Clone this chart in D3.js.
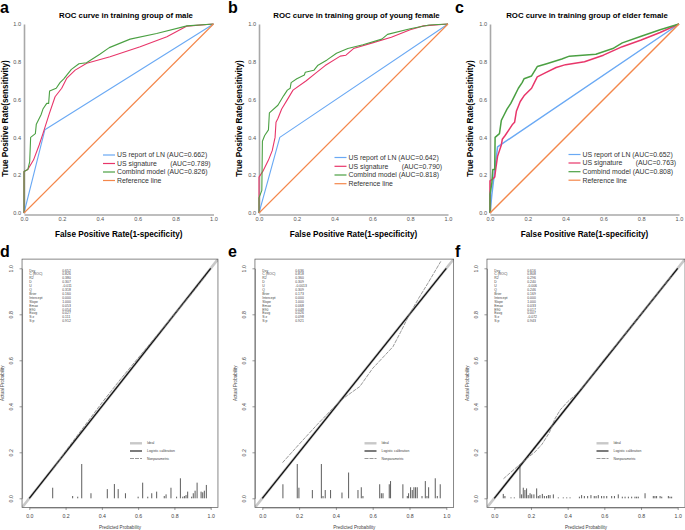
<!DOCTYPE html>
<html><head><meta charset="utf-8">
<script src="https://cdn.jsdelivr.net/npm/d3@7"></script>
<style>body{margin:0;background:#fff} text{font-family:"Liberation Sans",Arial,sans-serif}</style>
</head><body><svg id="c" width="685" height="530"></svg>
<script>
// ---------- DATA ----------
const rocTicks = [0, 0.2, 0.4, 0.6, 0.8, 1.0];
const rocNames = ["US report of LN (AUC=", "US signature       (AUC=", "Combind model (AUC=", "Reference line"];
const rocColors = ["#6aa9f4", "#e8366a", "#4ba043", "#f4874b"];
const rocTitles = ["ROC curve in training group of male", "ROC curve in training group of young female", "ROC curve in training group of elder female"];
const aucA = ["0.662", "0.789", "0.826"];
const aucB = ["0.642", "0.790", "0.818"];
const aucC = ["0.652", "0.763", "0.808"];
const refLine = [[0, 0], [1, 1]];

const aBlue = [[0,0],[0.11,0.44],[1,1]];
const aRed = [[0,0],[0,0.22],[0.02,0.23],[0.05,0.28],[0.08,0.36],[0.1,0.42],[0.134,0.527],[0.164,0.615],[0.199,0.66],[0.225,0.712],[0.27,0.756],[0.331,0.792],[0.454,0.827],[0.613,0.88],[0.754,0.933],[0.86,0.989],[1,1]];
const aGreen = [[0,0],[0,0.22],[0.02,0.23],[0.03,0.27],[0.035,0.40],[0.06,0.42],[0.065,0.47],[0.09,0.52],[0.1,0.55],[0.12,0.58],[0.13,0.58],[0.135,0.645],[0.17,0.66],[0.19,0.69],[0.21,0.71],[0.25,0.76],[0.29,0.79],[0.33,0.795],[0.4,0.84],[0.45,0.875],[0.56,0.92],[0.7,0.95],[0.86,0.99],[1,1]];

const bBlue = [[0,0],[0.11,0.40],[1,1]];
const bRed = [[0,0],[0,0.19],[0.02,0.22],[0.05,0.28],[0.07,0.33],[0.085,0.40],[0.09,0.48],[0.1,0.50],[0.12,0.55],[0.15,0.60],[0.18,0.65],[0.25,0.70],[0.3,0.74],[0.35,0.78],[0.43,0.83],[0.46,0.835],[0.5,0.87],[0.6,0.9],[0.7,0.93],[0.8,0.97],[0.87,0.99],[1,1]];
const bGreen = [[0,0],[0,0.08],[0.015,0.12],[0.018,0.38],[0.03,0.41],[0.05,0.44],[0.055,0.53],[0.1,0.57],[0.13,0.62],[0.15,0.65],[0.165,0.66],[0.17,0.69],[0.2,0.71],[0.24,0.73],[0.245,0.745],[0.29,0.755],[0.31,0.78],[0.36,0.81],[0.41,0.845],[0.47,0.87],[0.55,0.89],[0.65,0.92],[0.68,0.945],[0.8,0.975],[0.9,0.995],[1,1]];

const cBlue = [[0,0],[0.01,0.1],[0.04,0.35],[1,1]];
const cRed = [[0,0],[0,0.17],[0.015,0.18],[0.025,0.19],[0.03,0.23],[0.04,0.30],[0.05,0.33],[0.06,0.36],[0.065,0.39],[0.08,0.41],[0.1,0.44],[0.12,0.47],[0.13,0.48],[0.14,0.54],[0.16,0.59],[0.18,0.62],[0.22,0.66],[0.25,0.72],[0.3,0.745],[0.35,0.77],[0.4,0.785],[0.5,0.8],[0.6,0.835],[0.7,0.88],[0.8,0.915],[0.9,0.955],[1,1]];
const cGreen = [[0,0],[0,0.1],[0.01,0.16],[0.015,0.23],[0.025,0.23],[0.027,0.40],[0.05,0.42],[0.06,0.49],[0.075,0.52],[0.09,0.55],[0.11,0.58],[0.13,0.62],[0.15,0.66],[0.17,0.69],[0.18,0.71],[0.22,0.725],[0.25,0.775],[0.3,0.79],[0.38,0.815],[0.42,0.83],[0.56,0.84],[0.65,0.87],[0.7,0.9],[0.8,0.935],[0.9,0.97],[1,1]];

const calTicks = [0, 0.2, 0.4, 0.6, 0.8, 1.0];
const calLegend = ["Ideal", "Logistic calibration", "Nonparametric"];
const statLabels = ["Dxy","C (ROC)","R2","D","U","Q","Brier","Intercept","Slope","Emax","E90","Eavg","S:z","S:p"];
const dStats = ["0.652","0.826","0.380","0.307","-0.011","0.318","0.160","0.000","1.000","0.053","0.054","0.027","0.111","0.912"];
const eStats = ["0.636","0.818","0.360","0.309","-0.0013","0.309","0.173","0.000","1.000","0.068","0.048","0.026","0.098","0.921"];
const fStats = ["0.616","0.808","0.296","0.240","-0.006","0.246","0.169","0.000","1.000","0.033","0.017","0.007","-0.072","0.943"];

const dNonpar = [[0.13,0.125],[0.2,0.205],[0.3,0.31],[0.4,0.415],[0.5,0.515],[0.6,0.61],[0.7,0.705],[0.8,0.8],[0.9,0.895],[0.97,0.965]];
const eNonpar = [[0.11,0.155],[0.2,0.235],[0.3,0.322],[0.4,0.405],[0.45,0.44],[0.53,0.486],[0.6,0.565],[0.71,0.659],[0.75,0.72],[0.8,0.80],[0.85,0.87],[0.9,0.935],[0.97,1.03]];
const fNonpar = [[0.05,0.085],[0.1,0.12],[0.14,0.148],[0.18,0.175],[0.22,0.2],[0.26,0.235],[0.3,0.285],[0.33,0.345],[0.36,0.385],[0.4,0.42],[0.45,0.455],[0.5,0.5],[0.6,0.605],[0.7,0.7],[0.8,0.8],[0.9,0.9],[0.97,0.97]];

const dSpikes = [[0.129,0.046],[0.239,0.01],[0.267,0.007],[0.289,0.149],[0.34,0.022],[0.43,0.04],[0.469,0.062],[0.49,0.04],[0.53,0.022],[0.6,0.007],[0.625,0.068],[0.653,0.007],[0.675,0.022],[0.702,0.029],[0.744,0.01],[0.754,0.017],[0.781,0.046],[0.812,0.007],[0.833,0.087],[0.846,0.007],[0.855,0.01],[0.864,0.014],[0.873,0.029],[0.895,0.007],[0.904,0.022],[0.914,0.033],[0.925,0.068],[0.947,0.029],[0.956,0.026],[0.965,0.033],[0.976,0.058]];
const eSpikes = [[0.112,0.061],[0.19,0.149],[0.199,0.046],[0.272,0.036],[0.321,0.149],[0.33,0.01],[0.342,0.036],[0.371,0.036],[0.433,0.025],[0.469,0.112],[0.52,0.036],[0.538,0.048],[0.547,0.01],[0.638,0.061],[0.647,0.022],[0.656,0.022],[0.69,0.061],[0.697,0.075],[0.764,0.061],[0.788,0.01],[0.795,0.022],[0.806,0.048],[0.815,0.036],[0.824,0.048],[0.833,0.048],[0.842,0.048],[0.868,0.01],[0.886,0.075],[0.895,0.01],[0.904,0.048],[0.94,0.087],[0.951,0.01],[0.967,0.061]];
const fSpikes = [[0.049,0.019],[0.058,0.01],[0.091,0.004],[0.109,0.004],[0.14,0.145],[0.149,0.017],[0.158,0.046],[0.167,0.036],[0.176,0.043],[0.185,0.014],[0.195,0.022],[0.204,0.017],[0.216,0.017],[0.231,0.043],[0.24,0.01],[0.249,0.014],[0.262,0.019],[0.273,0.01],[0.285,0.01],[0.295,0.014],[0.304,0.014],[0.322,0.017],[0.349,0.004],[0.376,0.004],[0.395,0.004],[0.413,0.004],[0.464,0.007],[0.476,0.014],[0.491,0.01],[0.509,0.01],[0.527,0.014],[0.545,0.01],[0.555,0.01],[0.567,0.014],[0.585,0.01],[0.598,0.01],[0.613,0.01],[0.64,0.01],[0.655,0.01],[0.676,0.017],[0.698,0.007],[0.713,0.007],[0.731,0.007],[0.749,0.007],[0.767,0.007],[0.776,0.007],[0.785,0.007],[0.822,0.022],[0.867,0.01],[0.876,0.01],[0.885,0.01],[0.904,0.01],[0.913,0.007],[0.949,0.01],[0.958,0.007],[0.967,0.007]];

// ---------- DRAW ----------
const svg = d3.select("#c");
svg.append("rect").attr("width", 685).attr("height", 530).attr("fill", "#fff");
const fmt = d3.format(".1f");

function rocPanel(o) {
  const g = svg.append("g");
  const x = d3.scaleLinear().domain([0, 1]).range([o.x0, o.x1]);
  const y = d3.scaleLinear().domain([0, 1]).range([213, 24]);
  const ax = g.append("g").attr("transform", `translate(0,${y(0) + 1.5})`)
    .call(d3.axisBottom(x).tickValues(rocTicks).tickFormat(fmt).tickSize(0).tickPadding(3));
  const ay = g.append("g").attr("transform", `translate(${x(0)},0)`)
    .call(d3.axisLeft(y).tickValues(rocTicks).tickFormat(fmt).tickSize(0).tickPadding(3));
  [ax, ay].forEach(a => {
    a.select(".domain").attr("stroke", "#a8a8a8").attr("stroke-width", 1.6);
    a.selectAll("text").attr("font-size", 5.6).attr("fill", "#555").attr("font-family", "Liberation Sans, Arial");
  });
  const line = d3.line().x(d => x(d[0])).y(d => y(d[1]));
  const series = [o.blue, o.red, o.green, refLine];
  series.forEach((s, i) => {
    g.append("path").attr("d", line(s)).attr("fill", "none")
      .attr("stroke", rocColors[i]).attr("stroke-width", o.lw).attr("stroke-linejoin", "round");
  });
  g.append("text").attr("x", o.tx).attr("y", 17.5).attr("text-anchor", "middle")
    .attr("font-size", 7.8).attr("font-weight", "bold").text(o.title);
  g.append("text").attr("x", (o.x0 + o.x1) / 2).attr("y", 237).attr("text-anchor", "middle")
    .attr("font-size", 8.2).attr("font-weight", "bold").text("False Positive Rate(1-specificity)");
  g.append("text").attr("transform", `translate(${o.yl},${y(0.5)}) rotate(-90)`).attr("text-anchor", "middle")
    .attr("dy", "0.35em").attr("font-size", 8.2).attr("font-weight", "bold").text("True Positive Rate(sensitivity)");
  g.append("text").attr("x", o.lx).attr("y", 13).attr("font-size", 16).attr("font-weight", "bold").text(o.letter);
  o.legY.forEach((ly, i) => {
    g.append("line").attr("x1", o.lg0).attr("x2", o.lg1).attr("y1", ly).attr("y2", ly)
      .attr("stroke", rocColors[i]).attr("stroke-width", 1.2);
    g.append("text").attr("x", o.lg1 + 2).attr("y", ly).attr("dy", "0.35em").attr("font-size", 6.9)
      .attr("fill", "#333").style("white-space", "pre")
      .text(i < 3 ? rocNames[i] + o.auc[i] + ")" : rocNames[i]);
  });
}

rocPanel({x0: 24, x1: 213.5, tx: 126, yl: 5, lx: 0, letter: "a", title: rocTitles[0], blue: aBlue, red: aRed, green: aGreen, auc: aucA, lw: 1.1, lg0: 103, lg1: 115, legY: [155, 163.5, 172, 180.5]});
rocPanel({x0: 259, x1: 448, tx: 356.5, yl: 239, lx: 228, letter: "b", title: rocTitles[1], blue: bBlue, red: bRed, green: bGreen, auc: aucB, lw: 1.1, lg0: 334.5, lg1: 346.5, legY: [157.5, 166.3, 175, 183.7]});
rocPanel({x0: 490, x1: 679, tx: 587, yl: 470, lx: 455, letter: "c", title: rocTitles[2], blue: cBlue, red: cRed, green: cGreen, auc: aucC, lw: 1.5, lg0: 568.5, lg1: 580.5, legY: [154.5, 163, 171.7, 180.2]});

function calPanel(o) {
  const g = svg.append("g");
  const x = d3.scaleLinear().domain([0, 1]).range([o.x0, o.x1]);
  const y = d3.scaleLinear().domain([0, 1]).range([498.3, 268.3]);
  const bl = x(-0.04), br = x(1.04), bt = y(1.04), bb = y(-0.04);
  const clipId = "clip" + o.letter;
  g.append("clipPath").attr("id", clipId).append("rect").attr("x", bl).attr("y", bt).attr("width", br - bl).attr("height", bb - bt);
  const line = d3.line().x(d => x(d[0])).y(d => y(d[1]));
  const pg = g.append("g").attr("clip-path", `url(#${clipId})`);
  pg.append("path").attr("d", line([[-0.04, -0.04], [1.04, 1.04]])).attr("stroke", "#c8c8c8").attr("stroke-width", 2.6).attr("fill", "none");
  pg.append("path").attr("d", line(refLine)).attr("stroke", "#111").attr("stroke-width", 1.3).attr("fill", "none");
  pg.append("path").attr("d", line(o.np)).attr("stroke", "#777").attr("stroke-width", 0.75).attr("fill", "none").attr("stroke-dasharray", "4,1");
  pg.selectAll(".sp").data(o.spikes).enter().append("line")
    .attr("x1", d => x(d[0])).attr("x2", d => x(d[0])).attr("y1", y(0)).attr("y2", d => y(d[1]))
    .attr("stroke", "#333").attr("stroke-width", 0.8);
  g.append("rect").attr("x", bl).attr("y", bt).attr("width", br - bl).attr("height", bb - bt)
    .attr("fill", "none").attr("stroke", "#555").attr("stroke-width", 0.7);
  const ax = g.append("g").attr("transform", `translate(0,${bb})`)
    .call(d3.axisBottom(x).tickValues(calTicks).tickFormat(fmt).tickSize(2.5).tickSizeOuter(0).tickPadding(4));
  const ay = g.append("g").attr("transform", `translate(${bl},0)`)
    .call(d3.axisLeft(y).tickValues(calTicks).tickFormat(fmt).tickSize(2.5).tickSizeOuter(0).tickPadding(3));
  [ax, ay].forEach(a => {
    a.select(".domain").attr("stroke", "#555").attr("stroke-width", 0.6);
    a.selectAll(".tick line").attr("stroke", "#555").attr("stroke-width", 0.6);
    a.selectAll("text").attr("font-size", 5.2).attr("fill", "#444").attr("font-family", "Liberation Sans, Arial");
  });
  ay.selectAll(".tick text").attr("text-anchor", "middle").attr("x", -9).attr("y", 0).attr("dy", 0)
    .attr("transform", "rotate(-90,-9,0)");
  g.append("text").attr("x", (o.x0 + o.x1) / 2).attr("y", 528.5).attr("text-anchor", "middle")
    .attr("font-size", 4.6).attr("fill", "#444").text("Predicted Probability");
  g.append("text").attr("transform", `translate(${bl - 18},${(bt + bb) / 2}) rotate(-90)`).attr("text-anchor", "middle")
    .attr("font-size", 4.6).attr("fill", "#444").text("Actual Probability");
  g.append("text").attr("x", o.lx).attr("y", 257).attr("font-size", 16).attr("font-weight", "bold").text(o.letter);
  statLabels.forEach((s, i) => {
    const yy = 271.5 + i * 3.9;
    g.append("text").attr("x", x(0)).attr("y", yy).attr("font-size", 3.4).attr("fill", "#444").text(s);
    g.append("text").attr("x", x(0) + 33).attr("y", yy).attr("font-size", 3.4).attr("fill", "#444").text(o.stats[i]);
  });
  const legStyles = [["#c8c8c8", 2.4, null], ["#111", 1.1, null], ["#777", 0.75, "4,1"]];
  [443.3, 451, 458.5].forEach((ly, i) => {
    g.append("line").attr("x1", o.lg0).attr("x2", o.lg0 + 12).attr("y1", ly).attr("y2", ly)
      .attr("stroke", legStyles[i][0]).attr("stroke-width", legStyles[i][1]).attr("stroke-dasharray", legStyles[i][2]);
    g.append("text").attr("x", o.lg0 + 17).attr("y", ly).attr("dy", "0.35em").attr("font-size", 3.4).attr("fill", "#444").text(calLegend[i]);
  });
}

calPanel({x0: 29.3, x1: 210.7, letter: "d", lx: 0, stats: dStats, np: dNonpar, spikes: dSpikes, lg0: 130});
calPanel({x0: 262.3, x1: 446.3, letter: "e", lx: 228, stats: eStats, np: eNonpar, spikes: eSpikes, lg0: 364.5});
calPanel({x0: 494.3, x1: 677.7, letter: "f", lx: 455, stats: fStats, np: fNonpar, spikes: fSpikes, lg0: 596.5});
</script></body></html>
